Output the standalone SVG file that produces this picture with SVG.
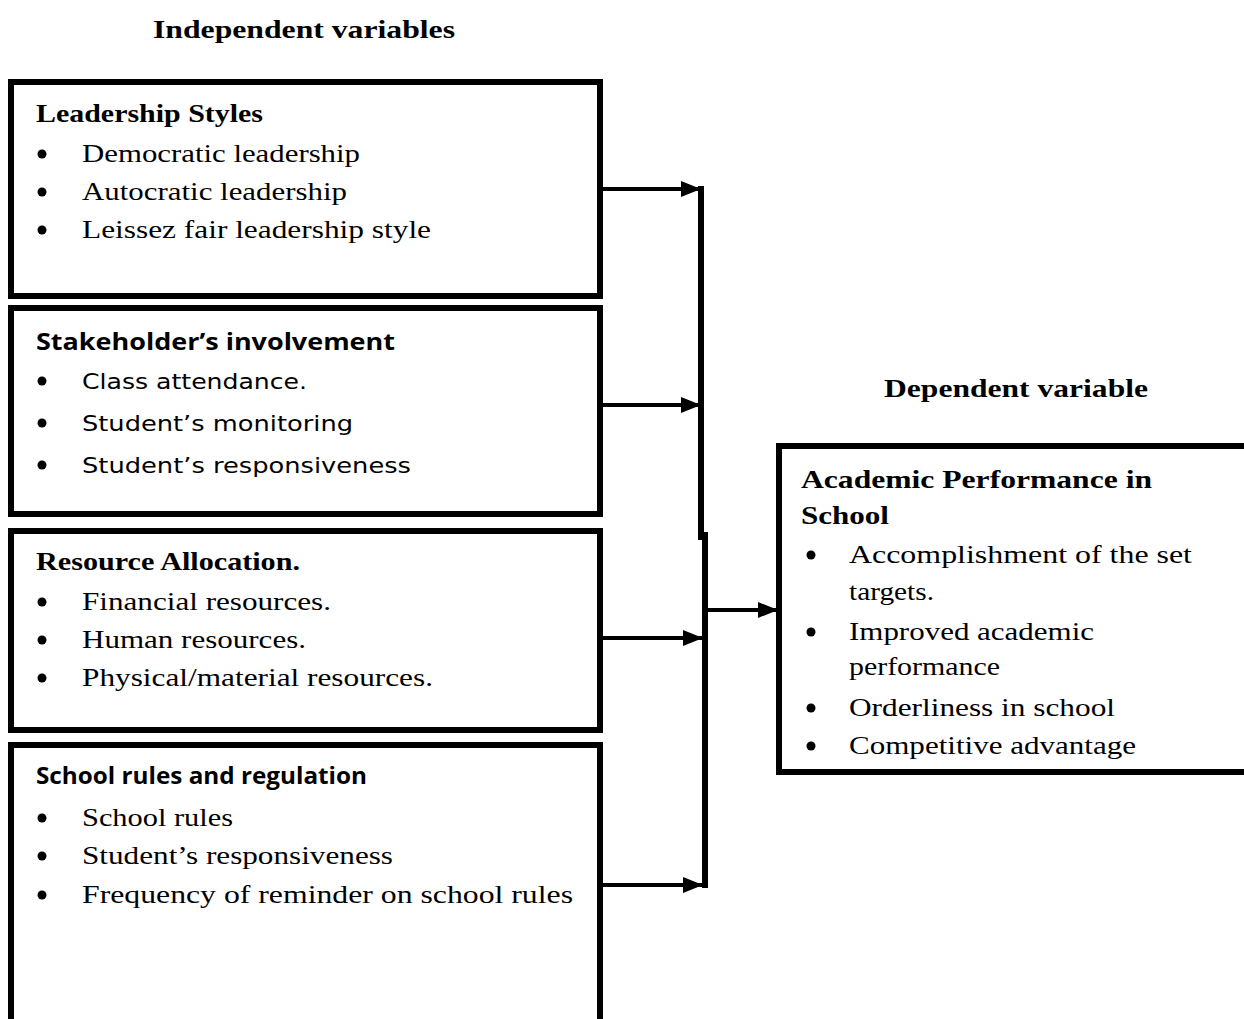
<svg xmlns="http://www.w3.org/2000/svg" width="1244" height="1019" viewBox="0 0 1244 1019">
<style>
.box{fill:#fff;stroke:#000;stroke-width:6}
.ser{font-family:"Liberation Serif","Times New Roman",serif;font-size:25px;fill:#000}
.serb{font-family:"Liberation Serif","Times New Roman",serif;font-size:25px;font-weight:bold;fill:#000}
.san{font-family:"DejaVu Sans","Verdana",sans-serif;font-size:21px;fill:#000}
.sanb{font-family:"Open Sans","Liberation Sans",sans-serif;font-size:23px;font-weight:bold;fill:#000}
.conn{stroke:#000;fill:none}
</style>
<defs>
<marker id="ah" markerWidth="20" markerHeight="20" viewBox="0 0 20 20" refX="20" refY="10" orient="auto" markerUnits="userSpaceOnUse">
<path d="M0,2 L20,10 L0,18 Z" fill="#000"/>
</marker>
<symbol id="dot" overflow="visible"><circle cx="0" cy="0" r="4.5" fill="#000"/></symbol>
</defs>
<rect width="1244" height="1019" fill="#fff"/>
<text class="serb" x="153" y="38" textLength="302" lengthAdjust="spacingAndGlyphs">Independent variables</text>
<text class="serb" x="884" y="397" textLength="264" lengthAdjust="spacingAndGlyphs">Dependent variable</text>

<g id="node-leadership">
<rect class="box" x="11" y="82" width="589" height="214"/>
<text class="serb" x="36" y="122" textLength="227" lengthAdjust="spacingAndGlyphs">Leadership Styles</text>
<use href="#dot" x="42" y="154"/><text class="ser" x="82" y="162" textLength="278" lengthAdjust="spacingAndGlyphs">Democratic  leadership</text>
<use href="#dot" x="42" y="192"/><text class="ser" x="82" y="200" textLength="265" lengthAdjust="spacingAndGlyphs">Autocratic  leadership</text>
<use href="#dot" x="42" y="230"/><text class="ser" x="82" y="238" textLength="349" lengthAdjust="spacingAndGlyphs">Leissez fair leadership  style</text>
</g>

<g id="node-stakeholder">
<rect class="box" x="11" y="308" width="589" height="206"/>
<text class="sanb" x="36" y="350" textLength="359" lengthAdjust="spacingAndGlyphs">Stakeholder’s involvement</text>
<use href="#dot" x="42" y="381"/><text class="san" x="82" y="389" textLength="225" lengthAdjust="spacingAndGlyphs">Class attendance.</text>
<use href="#dot" x="42" y="423"/><text class="san" x="82" y="431" textLength="271" lengthAdjust="spacingAndGlyphs">Student’s monitoring</text>
<use href="#dot" x="42" y="465"/><text class="san" x="82" y="473" textLength="329" lengthAdjust="spacingAndGlyphs">Student’s responsiveness</text>
</g>

<g id="node-resource">
<rect class="box" x="11" y="531" width="589" height="199"/>
<text class="serb" x="36" y="570" textLength="264" lengthAdjust="spacingAndGlyphs">Resource Allocation.</text>
<use href="#dot" x="42" y="602"/><text class="ser" x="82" y="610" textLength="249" lengthAdjust="spacingAndGlyphs">Financial  resources.</text>
<use href="#dot" x="42" y="640"/><text class="ser" x="82" y="648" textLength="224" lengthAdjust="spacingAndGlyphs">Human  resources.</text>
<use href="#dot" x="42" y="678"/><text class="ser" x="82" y="686" textLength="351" lengthAdjust="spacingAndGlyphs">Physical/material  resources.</text>
</g>

<g id="node-rules">
<rect class="box" x="11" y="745" width="589" height="300"/>
<text class="sanb" x="36" y="784" textLength="331" lengthAdjust="spacingAndGlyphs">School rules and regulation</text>
<use href="#dot" x="42" y="818"/><text class="ser" x="82" y="826" textLength="151" lengthAdjust="spacingAndGlyphs">School rules</text>
<use href="#dot" x="42" y="856"/><text class="ser" x="82" y="864" textLength="311" lengthAdjust="spacingAndGlyphs">Student’s  responsiveness</text>
<use href="#dot" x="42" y="895"/><text class="ser" x="82" y="903" textLength="491" lengthAdjust="spacingAndGlyphs">Frequency  of reminder  on school rules</text>
</g>

<g id="node-academic">
<rect class="box" x="779" y="446" width="480" height="326"/>
<text class="serb" x="801" y="488" textLength="351" lengthAdjust="spacingAndGlyphs">Academic  Performance  in</text>
<text class="serb" x="801" y="524" textLength="88" lengthAdjust="spacingAndGlyphs">School</text>
<use href="#dot" x="811" y="555"/><text class="ser" x="849" y="563" textLength="343" lengthAdjust="spacingAndGlyphs">Accomplishment  of the set</text>
<text class="ser" x="849" y="600" textLength="85" lengthAdjust="spacingAndGlyphs">targets.</text>
<use href="#dot" x="811" y="632"/><text class="ser" x="849" y="640" textLength="245" lengthAdjust="spacingAndGlyphs">Improved  academic</text>
<text class="ser" x="849" y="675" textLength="151" lengthAdjust="spacingAndGlyphs">performance</text>
<use href="#dot" x="811" y="708"/><text class="ser" x="849" y="716" textLength="266" lengthAdjust="spacingAndGlyphs">Orderliness  in school</text>
<use href="#dot" x="811" y="746"/><text class="ser" x="849" y="754" textLength="287" lengthAdjust="spacingAndGlyphs">Competitive  advantage</text>
</g>

<g id="connectors">
<line class="conn" x1="603" y1="189" x2="701" y2="189" stroke-width="4" marker-end="url(#ah)"/>
<line class="conn" x1="603" y1="405" x2="701" y2="405" stroke-width="4" marker-end="url(#ah)"/>
<line class="conn" x1="603" y1="638" x2="703" y2="638" stroke-width="4" marker-end="url(#ah)"/>
<line class="conn" x1="603" y1="885" x2="703" y2="885" stroke-width="4" marker-end="url(#ah)"/>
<line class="conn" x1="701" y1="186" x2="701" y2="540" stroke-width="6"/>
<line class="conn" x1="705" y1="532" x2="705" y2="888" stroke-width="6"/>
<line class="conn" x1="707" y1="610" x2="778" y2="610" stroke-width="4" marker-end="url(#ah)"/>
</g>
</svg>
